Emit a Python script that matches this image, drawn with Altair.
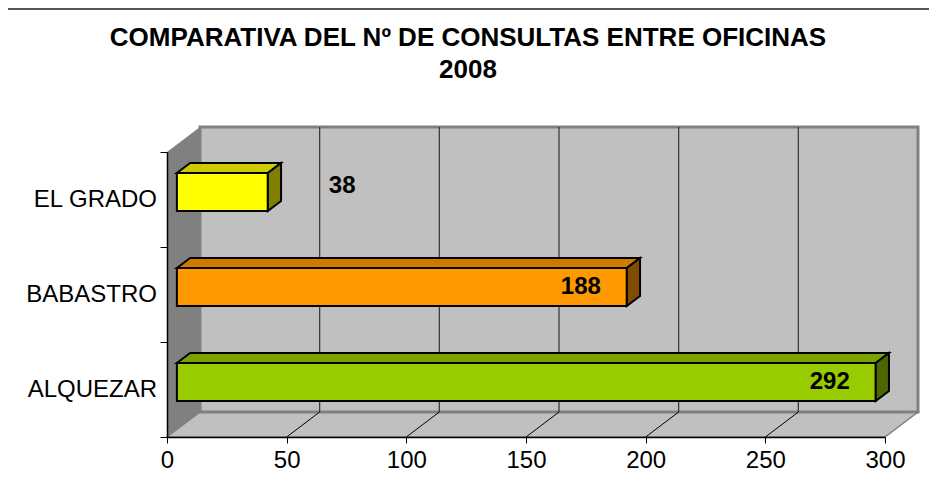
import altair as alt
import pandas as pd

# ---------------- data ----------------
categories = ["ALQUEZAR", "BABASTRO", "EL GRADO"]
values = [292, 188, 38]
front_colors = ["#99CC00", "#FF9900", "#FFFF00"]
top_colors = ["#7AA300", "#CC7A00", "#CCCC00"]
side_colors = ["#4D6600", "#804D00", "#808000"]
x_ticks = [0, 50, 100, 150, 200, 250, 300]
title_lines = ["COMPARATIVA DEL Nº DE CONSULTAS ENTRE OFICINAS", "2008"]

# ---------------- layout / projection (style) ----------------
W, H = 718, 285
XMAX = x_ticks[-1]
NCAT = len(categories)
DX = 33 * XMAX / W          # depth offset expressed in x data units
DY = 25 * NCAT / H          # depth offset expressed in y data units
F0, F1 = 0.3, 0.7           # bar depth (front / back fraction)
HALF = 0.2                  # half bar thickness (in category units)
FONT = "Liberation Sans"
FS = 24

xs = alt.Scale(domain=[0, XMAX], nice=False, zero=False)
ys = alt.Scale(domain=[0, NCAT], nice=False, zero=False)
xaxis = alt.Axis(values=x_ticks, title=None, grid=False, labelFontSize=FS, labelFont=FONT,
                 labelColor="black", domainColor="black", tickColor="black", tickSize=6,
                 labelPadding=5, zindex=1, domainWidth=1.5, labelFlush=False, labelOverlap=False)
yaxis = alt.Axis(values=list(range(NCAT + 1)), title=None, grid=False, labels=False,
                 domainColor="black", tickColor="black", tickSize=7, zindex=1, domainWidth=1.5)


def X(f):
    return alt.X(f, scale=xs, axis=xaxis, stack=None)


def Y(f):
    return alt.Y(f, scale=ys, axis=yaxis, stack=None)


# ---------------- walls / floor ----------------
floor = pd.DataFrame([{"y": 0, "x": 0, "x2": XMAX}, {"y": DY, "x": DX, "x2": XMAX + DX}])
floor_layer = alt.Chart(floor).mark_area(orient="horizontal", fill="#C0C0C0",
                                         stroke="#808080", strokeWidth=1.5).encode(
    y=Y("y:Q"), x=X("x:Q"), x2="x2:Q")

back = pd.DataFrame([{"x": DX, "x2": XMAX + DX, "y": DY, "y2": NCAT + DY}])
back_layer = alt.Chart(back).mark_rect(fill="#C0C0C0", stroke="#808080", strokeWidth=3).encode(
    x=X("x:Q"), x2="x2:Q", y=Y("y:Q"), y2="y2:Q")

left = pd.DataFrame([{"x": 0, "y": 0, "y2": NCAT}, {"x": DX, "y": DY, "y2": NCAT + DY}])
left_layer = alt.Chart(left).mark_area(orient="vertical", fill="#808080").encode(
    x=X("x:Q"), y=Y("y:Q"), y2="y2:Q")

grid_back = pd.DataFrame([{"x": v + DX, "y": DY, "y2": NCAT + DY} for v in x_ticks[1:-1]])
grid_back_layer = alt.Chart(grid_back).mark_rule(color="#333333", strokeWidth=1.2).encode(
    x=X("x:Q"), y=Y("y:Q"), y2="y2:Q")

grid_floor = pd.DataFrame(
    [r for v in x_ticks[1:-1] for r in ({"id": v, "x": v, "y": 0}, {"id": v, "x": v + DX, "y": DY})])
grid_floor_layer = alt.Chart(grid_floor).mark_line(color="black", strokeWidth=1).encode(
    x=X("x:Q"), y=Y("y:Q"), detail="id:N")

# ---------------- bars ----------------
front_rows, top_rows, side_rows, label_rows = [], [], [], []
for i, (c, v) in enumerate(zip(categories, values)):
    lo, hi = i + 0.5 - HALF, i + 0.5 + HALF
    front_rows.append({"cat": c, "x": F0 * DX, "x2": v + F0 * DX,
                       "y": lo + F0 * DY, "y2": hi + F0 * DY, "fill": front_colors[i]})
    top_rows += [{"cat": c, "y": hi + F0 * DY, "x": F0 * DX, "x2": v + F0 * DX, "fill": top_colors[i]},
                 {"cat": c, "y": hi + F1 * DY, "x": F1 * DX, "x2": v + F1 * DX, "fill": top_colors[i]}]
    side_rows += [{"cat": c, "x": v + F0 * DX, "y": lo + F0 * DY, "y2": hi + F0 * DY, "fill": side_colors[i]},
                  {"cat": c, "x": v + F1 * DX, "y": lo + F1 * DY, "y2": hi + F1 * DY, "fill": side_colors[i]}]
    label_rows.append({"cat": c, "value": v, "x": v + F0 * DX, "y": i + 0.5 + F0 * DY})

front_layer = alt.Chart(pd.DataFrame(front_rows)).mark_rect(stroke="black", strokeWidth=2).encode(
    x=X("x:Q"), x2="x2:Q", y=Y("y:Q"), y2="y2:Q", fill=alt.Fill("fill:N", scale=None))
top_layer = alt.Chart(pd.DataFrame(top_rows)).mark_area(orient="horizontal", stroke="black",
                                                        strokeWidth=2, strokeJoin="miter").encode(
    y=Y("y:Q"), x=X("x:Q"), x2="x2:Q", detail="cat:N", fill=alt.Fill("fill:N", scale=None))
side_layer = alt.Chart(pd.DataFrame(side_rows)).mark_area(orient="vertical", stroke="black",
                                                          strokeWidth=2, strokeJoin="miter").encode(
    x=X("x:Q"), y=Y("y:Q"), y2="y2:Q", detail="cat:N", fill=alt.Fill("fill:N", scale=None))

labels = pd.DataFrame(label_rows)
lab_in = alt.Chart(labels).transform_filter("datum.value >= 100").mark_text(
    align="right", baseline="middle", dx=-26, fontSize=FS, fontWeight="bold", font=FONT, color="black").encode(
    x=X("x:Q"), y=Y("y:Q"), text="value:Q")
lab_out = alt.Chart(labels).transform_filter("datum.value < 100").mark_text(
    align="left", baseline="middle", dx=61, dy=-6, fontSize=FS, fontWeight="bold", font=FONT, color="black").encode(
    x=X("x:Q"), y=Y("y:Q"), text="value:Q")

cats = pd.DataFrame({"cat": categories, "x": [0] * NCAT, "y": [i + 0.5 for i in range(NCAT)]})
cat_layer = alt.Chart(cats).mark_text(align="right", baseline="middle", dx=-10, fontSize=FS,
                                      font=FONT, color="black").encode(
    x=X("x:Q"), y=Y("y:Q"), text="cat:N")

one = pd.DataFrame({"a": [0]})
border = alt.Chart(one).mark_rule(color="#555555", strokeWidth=2).encode(
    x=alt.value(-159), x2=alt.value(W + 44), y=alt.value(-143))
title1 = alt.Chart(one).mark_text(text=title_lines[0], align="center", baseline="middle", fontSize=26,
                                  fontWeight="bold", font=FONT, color="black").encode(
    x=alt.value(301), y=alt.value(-114))
title2 = alt.Chart(one).mark_text(text=title_lines[1], align="center", baseline="middle", fontSize=26,
                                  fontWeight="bold", font=FONT, color="black").encode(
    x=alt.value(301), y=alt.value(-82))

chart = alt.layer(
    floor_layer, back_layer, left_layer, grid_back_layer, grid_floor_layer,
    front_layer, top_layer, side_layer, lab_in, lab_out, cat_layer, border, title1, title2
).properties(
    width=W, height=H, autosize="none",
    padding={"left": 159, "top": 144, "right": 44, "bottom": 56},
).configure_view(stroke=None).configure(background="white")

chart.save("out.html", embed_options={"renderer": "svg", "actions": False})
